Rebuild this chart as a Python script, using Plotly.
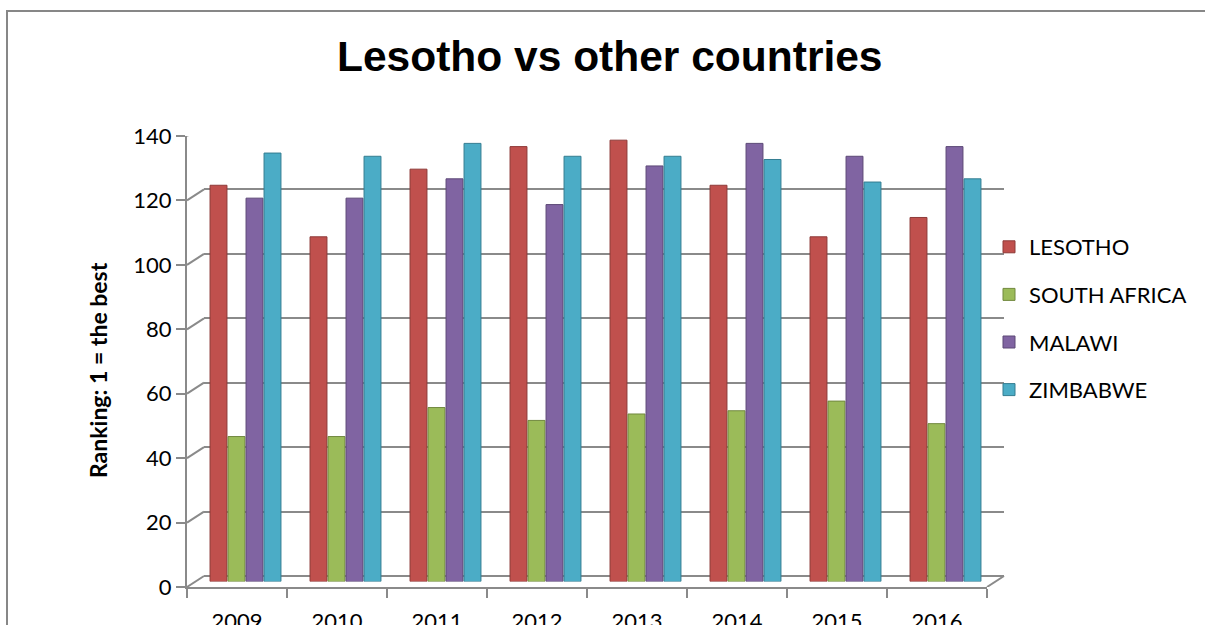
import plotly.graph_objects as go

# ---------------- data ----------------
years = ["2009", "2010", "2011", "2012", "2013", "2014", "2015", "2016"]
lesotho = [123, 107, 128, 135, 137, 123, 107, 113]
south_africa = [45, 45, 54, 50, 52, 53, 56, 49]
malawi = [119, 119, 125, 117, 129, 136, 132, 135]
zimbabwe = [133, 132, 136, 132, 132, 131, 124, 125]
series_names = ["LESOTHO", "SOUTH AFRICA", "MALAWI", "ZIMBABWE"]
y_ticks = [0, 20, 40, 60, 80, 100, 120, 140]

colors = ["#C0504D", "#9BBB59", "#8064A2", "#4BACC6"]
edge_colors = ["#8E3A38", "#71893F", "#5C4876", "#347D91"]

W, H = 1205, 625
DX, DY = 17, 11  # depth offset (px) from front to back wall


def xd(a, b):
    return [a / W, b / W]


def yd(bottom_px, top_px):
    return [(H - bottom_px) / H, (H - top_px) / H]


# front plane pixel box
FX0, FX1 = 187, 987
FY0, FY1 = 587, 136
# mid plane (bars)
MX0, MX1 = FX0 + DX / 2, FX1 + DX / 2
MY0, MY1 = FY0 - DY / 2, FY1 - DY / 2
# back plane
BX0, BX1 = FX0 + DX, FX1 + DX
BY0, BY1 = FY0 - DY, FY1 - DY

fig = go.Figure()

# back wall (gridlines) -> x/y
fig.add_trace(go.Scatter(x=years, y=[None] * len(years), xaxis="x", yaxis="y",
                         mode="markers", showlegend=False, hoverinfo="skip"))

# bars -> x2/y2
for name, vals, c, ec in zip(series_names, [lesotho, south_africa, malawi, zimbabwe], colors, edge_colors):
    fig.add_trace(go.Bar(x=years, y=vals, name=name, xaxis="x2", yaxis="y2",
                         marker=dict(color=c, line=dict(color=ec, width=1)),
                         legendgroup=name))

# front axes -> x3/y3
fig.add_trace(go.Scatter(x=years, y=[0] * len(years), xaxis="x3", yaxis="y3",
                         mode="markers", marker=dict(opacity=0), showlegend=False,
                         hoverinfo="skip"))

GRID = "#8A8A8A"
font_main = "Lato, Calibri, Arial, sans-serif"

shapes = []
# diagonal connectors from front ticks to back wall gridlines
for v in y_ticks:
    shapes.append(dict(type="line", xref="x3 domain", yref="y3",
                       xsizemode="pixel", xanchor=0, x0=0, x1=DX,
                       ysizemode="pixel", yanchor=v, y0=0, y1=DY,
                       line=dict(color=GRID, width=2)))
# floor right edge
shapes.append(dict(type="line", xref="x3 domain", yref="y3",
                   xsizemode="pixel", xanchor=1, x0=0, x1=DX,
                   ysizemode="pixel", yanchor=0, y0=0, y1=DY,
                   line=dict(color=GRID, width=2)))
# outer chart frame
shapes.append(dict(type="rect", xref="paper", yref="paper",
                   x0=7 / W, x1=1.02, y0=-0.1, y1=(H - 11) / H,
                   line=dict(color="#878787", width=2), fillcolor="rgba(0,0,0,0)"))

fig.update_layout(
    width=W, height=H,
    margin=dict(l=0, r=0, t=0, b=0, autoexpand=False),
    paper_bgcolor="white",
    plot_bgcolor="rgba(0,0,0,0)",
    barmode="group", bargap=0.28, bargroupgap=0.06,
    font=dict(family=font_main, size=22, color="black"),
    showlegend=True,
    legend=dict(x=989 / W, y=(H - 226) / H, xanchor="left", yanchor="top",
                font=dict(family=font_main, size=22, color="black"),
                traceorder="grouped", tracegroupgap=16, itemwidth=30,
                bgcolor="rgba(0,0,0,0)"),
    # back wall
    xaxis=dict(domain=xd(BX0, BX1), anchor="y", type="category",
               categoryarray=years, range=[-0.5, 7.5],
               showgrid=False, showticklabels=False, ticks="", showline=False,
               zeroline=False, fixedrange=True),
    yaxis=dict(domain=yd(BY0, BY1), anchor="x", range=[0, 140],
               tickvals=y_ticks, showgrid=True, gridcolor=GRID, gridwidth=2,
               zeroline=True, zerolinecolor=GRID, zerolinewidth=2,
               showticklabels=False, ticks="", showline=False, fixedrange=True),
    # bars (mid-depth)
    xaxis2=dict(domain=xd(MX0, MX1), anchor="y2", type="category",
                categoryarray=years, range=[-0.5, 7.5],
                showgrid=False, showticklabels=False, ticks="", showline=False,
                zeroline=False, fixedrange=True),
    yaxis2=dict(domain=yd(MY0, MY1), anchor="x2", range=[0, 140],
                showgrid=False, showticklabels=False, ticks="", showline=False,
                zeroline=False, fixedrange=True),
    # front axes
    xaxis3=dict(domain=xd(FX0, FX1), anchor="y3", type="category",
                categoryarray=years, range=[-0.5, 7.5],
                tickson="boundaries", ticks="outside", ticklen=9, tickwidth=2,
                tickcolor=GRID, showline=True, linecolor=GRID, linewidth=2,
                showgrid=False, zeroline=False, ticklabelstandoff=14,
                tickfont=dict(family=font_main, size=22, color="black"),
                fixedrange=True),
    yaxis3=dict(domain=yd(FY0, FY1), anchor="x3", range=[0, 140],
                tickvals=y_ticks, ticktext=[str(t) for t in y_ticks],
                ticks="outside", ticklen=9, tickwidth=2, tickcolor=GRID,
                showline=True, linecolor=GRID, linewidth=2,
                showgrid=False, zeroline=False,
                tickfont=dict(family=font_main, size=22, color="black"),
                fixedrange=True),
    shapes=shapes,
    annotations=[
        dict(text="<b>Lesotho vs other countries</b>", xref="paper", yref="paper",
             x=609.5 / W, y=(H - 57) / H, xanchor="center", yanchor="middle",
             showarrow=False,
             font=dict(family="Liberation Sans, Arial, sans-serif", size=42.5, color="black")),
        dict(text="<b>Ranking: 1 = the best</b>", xref="paper", yref="paper",
             x=98 / W, y=(H - 370) / H, xanchor="center", yanchor="middle",
             textangle=-90, showarrow=False,
             font=dict(family=font_main, size=23, color="black")),
    ],
)

fig.write_html("out.html")
